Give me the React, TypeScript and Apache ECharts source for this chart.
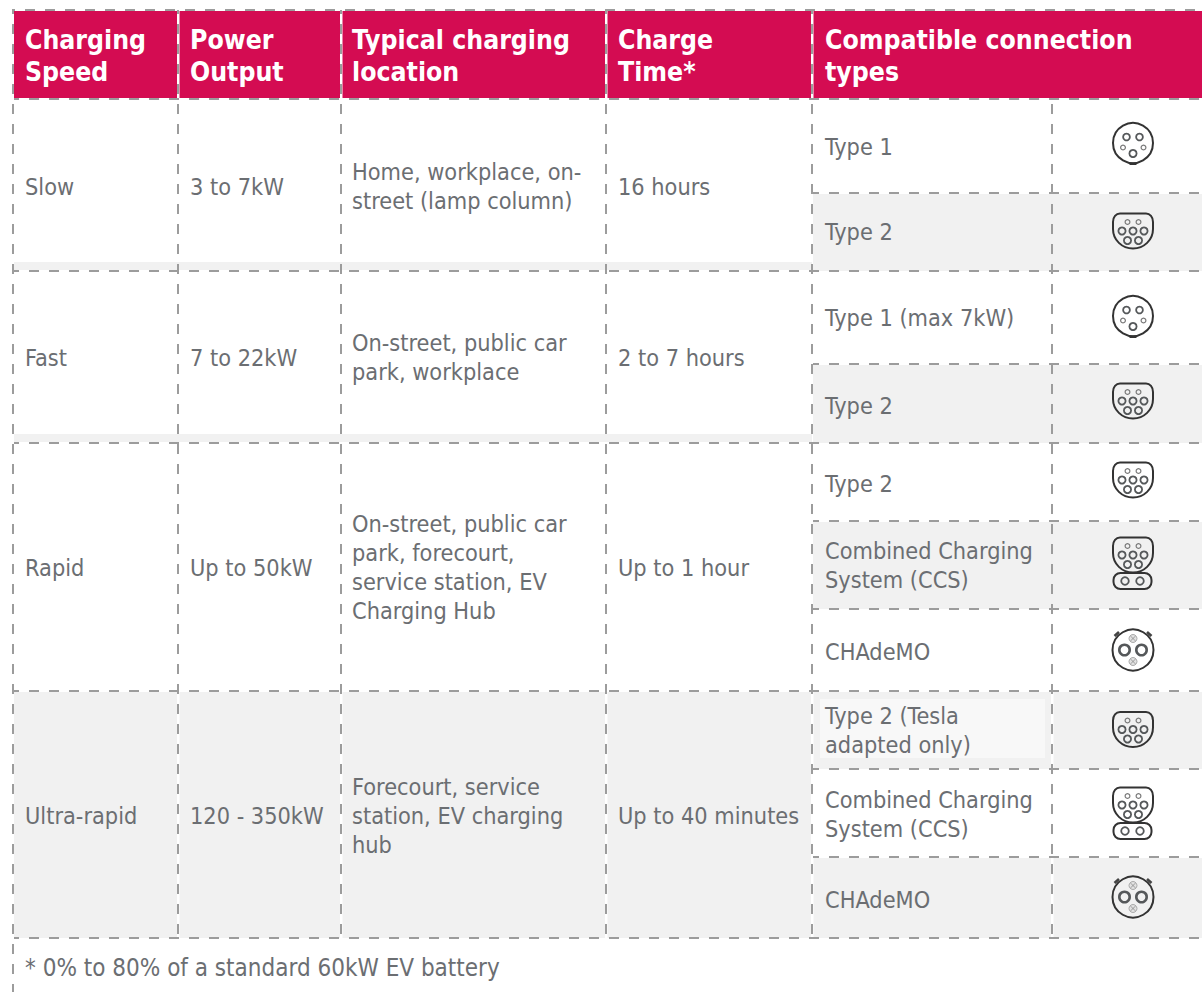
import React, { useEffect, useRef } from "react";
import * as echarts from "echarts";

const headers = [
  ["Charging", "Speed"],
  ["Power", "Output"],
  ["Typical charging", "location"],
  ["Charge", "Time*"],
  ["Compatible connection", "types"],
];
const speedNames = ["Slow", "Fast", "Rapid", "Ultra-rapid"];
const powerOutputs = ["3 to 7kW", "7 to 22kW", "Up to 50kW", "120 - 350kW"];
const locations = [
  ["Home, workplace, on-", "street (lamp column)"],
  ["On-street, public car", "park, workplace"],
  ["On-street, public car", "park, forecourt,", "service station, EV", "Charging Hub"],
  ["Forecourt, service", "station, EV charging", "hub"],
];
const chargeTimes = ["16 hours", "2 to 7 hours", "Up to 1 hour", "Up to 40 minutes"];
const connectorLabels = [
  ["Type 1"],
  ["Type 2"],
  ["Type 1 (max 7kW)"],
  ["Type 2"],
  ["Type 2"],
  ["Combined Charging", "System (CCS)"],
  ["CHAdeMO"],
  ["Type 2 (Tesla", "adapted only)"],
  ["Combined Charging", "System (CCS)"],
  ["CHAdeMO"],
];
const connectorIcons = ["t1", "t2", "t1", "t2", "t2", "ccs", "cha", "t2", "ccs", "cha"];
const footnote = "* 0% to 80% of a standard 60kW EV battery";

// layout
const FONT = "'DejaVu Sans Condensed', 'Noto Sans', sans-serif";
const TEXT = "#6b6e72";
const DASH = "#9c9c9c";
const CRIMSON = "#d40c52";
const GREY = "#f1f1f1";
const W = 1202;
const colX = [14, 179, 342, 607, 813, 1053];
const textX = [25, 190, 352, 618];
const groupY = [99, 271, 443, 691, 938];
const connY = [99, 193, 271, 364, 443, 521, 609, 691, 769, 857, 938];
const shadedRows = [1, 3, 5, 7, 9];
const labelCY = [146, 231, 317, 405, 483, 565, 651, 730, 813.5, 899];
const iconCY = [146, 231, 319, 401, 480, 560, 650, 729.5, 810, 897];
const BODY = 23.3;
const LH = 29;

const T2_PATH =
  "M-13 -17.5 L13 -17.5 C17 -17.5 20 -14 20 -9 L20 -2 C20 9 11 17.5 0 17.5 C-11 17.5 -20 9 -20 -2 L-20 -9 C-20 -14 -17 -17.5 -13 -17.5 Z";
echarts.graphic.registerShape("t2shell", echarts.graphic.extendPath(T2_PATH, {}) as any);

const line = (x1: number, y1: number, x2: number, y2: number, offset = 0) => ({
  type: "line",
  z: 5,
  shape: { x1, y1, x2, y2 },
  style: { stroke: DASH, lineWidth: 2, lineDash: [10, 10], lineDashOffset: offset },
});
const rect = (x: number, y: number, w: number, h: number, fill: string, z = 1, r = 0) => ({
  type: "rect",
  z,
  shape: { x, y, width: w, height: h, r },
  style: { fill },
});
const multi = (lines: string[], x: number, cy: number, opts: any = {}) => {
  const lh = opts.lh ?? LH;
  return lines.map((t, i) => ({
    type: "text",
    z: 10,
    x,
    y: cy + (i - (lines.length - 1) / 2) * lh,
    style: {
      text: t,
      fill: opts.fill ?? TEXT,
      font: `${opts.weight ?? "normal"} ${opts.size ?? BODY}px ${FONT}`,
      verticalAlign: "middle",
      align: "left",
    },
  }));
};
const ring = (cx: number, cy: number, r: number, lw: number, stroke = "#55585a", fill = "none") => ({
  type: "circle",
  z: 12,
  shape: { cx, cy, r },
  style: { fill, stroke, lineWidth: lw },
});
const t2Icon = (cx: number, cy: number) => [
  { type: "t2shell", z: 12, x: cx, y: cy, style: { fill: "none", stroke: "#333", lineWidth: 2 } },
  ring(cx - 5.5, cy - 9, 2.4, 1.2, "#777"),
  ring(cx + 5.5, cy - 9, 2.4, 1.2, "#777"),
  ring(cx - 11, cy, 3.6, 1.8),
  ring(cx, cy, 3.6, 1.8),
  ring(cx + 11, cy, 3.6, 1.8),
  ring(cx - 5.5, cy + 9.5, 3.6, 1.8),
  ring(cx + 5.5, cy + 9.5, 3.6, 1.8),
];
const t1Icon = (cx: number, cy: number) => [
  ring(cx, cy, 20, 2, "#333"),
  rect(cx - 3.5, cy + 19.5, 7, 2.5, "#333", 12),
  ring(cx - 6.5, cy - 6, 3.4, 1.8),
  ring(cx + 6.5, cy - 6, 3.4, 1.8),
  ring(cx - 10, cy + 4.5, 2.4, 1.2, "#777"),
  ring(cx + 10.5, cy + 4.5, 2.4, 1.2, "#777"),
  ring(cx, cy + 10.5, 3.6, 1.8),
];
const ccsIcon = (cx: number, cy: number) => [
  ...t2Icon(cx, cy - 5),
  {
    type: "rect",
    z: 12,
    shape: { x: cx - 19.5, y: cy + 13, width: 38, height: 16, r: 7 },
    style: { fill: "none", stroke: "#333", lineWidth: 2 },
  },
  ring(cx - 8, cy + 21, 3.8, 1.8),
  ring(cx + 7, cy + 21, 3.8, 1.8),
];
const crossed = (cx: number, cy: number) => [
  ring(cx, cy, 4, 1, "#aaa", "#e2e2e2"),
  { type: "line", z: 13, shape: { x1: cx - 2.4, y1: cy - 2.4, x2: cx + 2.4, y2: cy + 2.4 }, style: { stroke: "#888", lineWidth: 0.8 } },
  { type: "line", z: 13, shape: { x1: cx + 2.4, y1: cy - 2.4, x2: cx - 2.4, y2: cy + 2.4 }, style: { stroke: "#888", lineWidth: 0.8 } },
];
const chaIcon = (cx: number, cy: number) => [
  ring(cx, cy, 20.5, 2, "#333"),
  { type: "line", z: 12, shape: { x1: cx - 18.5, y1: cy - 14, x2: cx - 14, y2: cy - 18 }, style: { stroke: "#444", lineWidth: 2.6 } },
  { type: "line", z: 12, shape: { x1: cx + 18.5, y1: cy - 14, x2: cx + 14, y2: cy - 18 }, style: { stroke: "#444", lineWidth: 2.6 } },
  ring(cx - 8.5, cy, 5.2, 2.6),
  ring(cx + 8.5, cy, 5.2, 2.6),
  ...crossed(cx, cy - 11.5),
  ...crossed(cx, cy + 11.5),
];

function buildGraphic() {
  const els: any[] = [];
  els.push(rect(14, 11, W - 14, 87, CRIMSON));
  els.push(rect(14, 262, colX[4] - 14 - 1, 8, GREY));
  els.push(rect(14, 434, colX[4] - 14 - 1, 8, GREY));
  els.push(rect(14, 692, colX[4] - 14 - 1, 246, GREY));
  shadedRows.forEach((r) => {
    els.push(rect(colX[4], connY[r] + 1, W - colX[4], connY[r + 1] - connY[r] - 1, GREY));
  });
  els.push(rect(820, 699, 225, 59, "#f8f8f8", 2));
  [178, 341, 606, 812].forEach((x) => {
    els.push(rect(x - 1, 11, 2.5, 87, "#fff", 2));
  });
  [178, 341, 606, 812, 1052].forEach((x) => {
    els.push(rect(x - 1, 692, 2.5, 246, "#fff", 2));
  });
  els.push(line(12, 10, W, 10, 7));
  els.push(line(14, 99, W, 99, 5));
  groupY.slice(1).forEach((y) => els.push(line(14, y, W, y, 5)));
  connY.forEach((y) => els.push(line(813, y, W, y, 4)));
  els.push(line(13, 10, 13, 992, 6));
  [178, 341, 606, 812].forEach((x) => els.push(line(x, 10, x, 938, 6)));
  els.push(line(1052, 99, 1052, 938, 15));

  headers.forEach((h, i) => {
    const x = i < 4 ? textX[i] : 825;
    els.push(...multi(h, x, 55, { fill: "#fff", weight: "bold", size: 26.4, lh: 32 }));
  });
  speedNames.forEach((s, i) => {
    const cy = [186, 357, 567, 815][i];
    els.push(...multi([s], textX[0], cy));
    els.push(...multi([powerOutputs[i]], textX[1], cy));
    els.push(...multi(locations[i], textX[2], cy));
    els.push(...multi([chargeTimes[i]], textX[3], cy));
  });
  connectorLabels.forEach((l, i) => {
    els.push(...multi(l, 825, labelCY[i]));
    const cx = 1133;
    const k = connectorIcons[i];
    if (k === "t1") els.push(...t1Icon(cx, iconCY[i] - 3));
    if (k === "t2") els.push(...t2Icon(cx, iconCY[i]));
    if (k === "ccs") els.push(...ccsIcon(cx, iconCY[i]));
    if (k === "cha") els.push(...chaIcon(cx, iconCY[i]));
  });
  els.push(...multi([footnote], 25, 968, { size: 24 }));
  return els;
}

export default function App() {
  const ref = useRef<HTMLDivElement>(null);
  useEffect(() => {
    const chart = echarts.init(ref.current!, undefined, { renderer: "svg" });
    chart.setOption({
      animation: false,
      backgroundColor: "#fff",
      graphic: { elements: buildGraphic() },
    });
    return () => chart.dispose();
  }, []);
  return <div ref={ref} style={{ position: "absolute", left: 0, top: 0, width: 1202, height: 992 }} />;
}
